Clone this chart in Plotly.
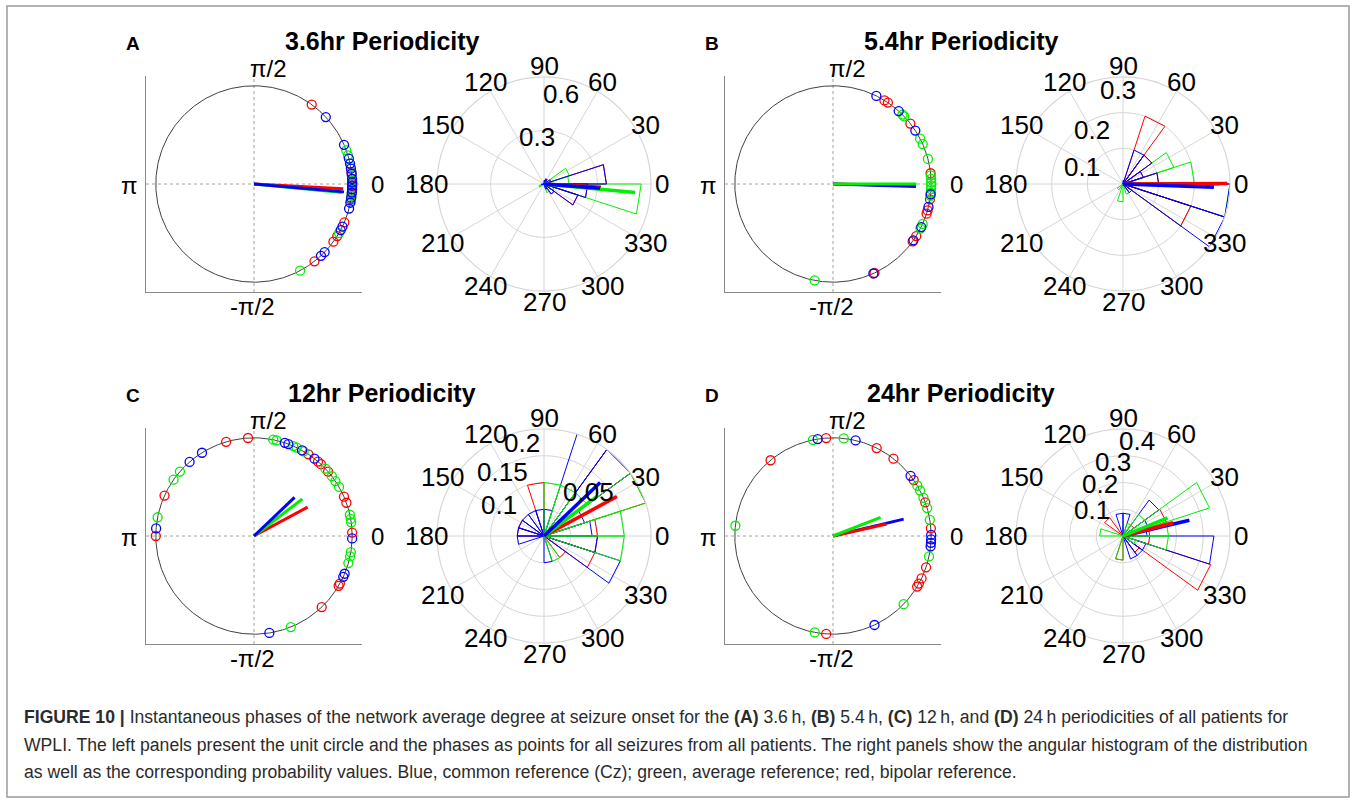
import numpy as np
import plotly.graph_objects as go

W, H = 1357, 802
FONT = "Liberation Sans, Arial, Helvetica, sans-serif"
BLUE, GREEN, RED = "#0000ff", "#00ee00", "#ff0000"

# ---------------- data ----------------
panel_letters = ["A", "B", "C", "D"]
panel_titles = ["3.6hr Periodicity", "5.4hr Periodicity", "12hr Periodicity", "24hr Periodicity"]
angle_ticks = [0, 30, 60, 90, 120, 150, 180, 210, 240, 270, 300, 330]
BIN_WIDTH = 18  # 20 rose bins

# phases at seizure onset (degrees) – left panels
A_blue_phase = [43, 23.5, 15, 12, 9, 6, 3, 1, -1, -3, -5, -8, -11, -14.5, -25.7, -28, -44, -47]
A_green_phase = [20, 17, 10, 5, 2, -2, -4, -7, -10, -30, -62]
A_red_phase = [54, 7, 3, 0, -3, -6, -9, -23, -32, -36, -52]

B_blue_phase = [63.8, 48, 33, -6, -13.5, -26, -35, -65.7]
B_green_phase = [45, 43.5, 27.5, 24, 14.8, 5, 3, 1, -1, -3, -5, -7, -24, -27, -100.8]
B_red_phase = [58.4, 56, 38, 6.3, -9, -15.6, -17.6, -32, -35.8, -65]

C_blue_phase = [122, 131, 175.6, 71.7, 69.5, 60.7, 52, -1.4, -22.6, -24.6, -81]
C_green_phase = [139, 145, 169, 78.7, 76.7, 66.4, 64.2, 59.6, 43.3, 37.5, 34, 30,
                 12.5, 10, 8, -9.5, -12, -16, -68]
C_red_phase = [93.5, 106.5, 155.7, 180, 56.3, 49.3, 47, 41, 23.6, 19.8, 2, -29, -30.5, -46.4]

D_blue_phase = [99, 76.7, 37.8, 0.6, -2, -4, -6, -65]
D_green_phase = [101.8, 83.7, 30.8, 27.6, 22.9, 16.5, 9.5, -12, -44, -100.7, 174]
D_red_phase = [94, 63.6, 52, 34.7, 20, 4.5, -18.6, -25.6, -29, -31, -94, 129.5]

# angular histogram probabilities, 20 bins of 18 deg starting at 0 deg
A_blue_rose = [0.35, 0.04, 0, 0.03, 0.02, 0, 0, 0, 0, 0, 0.015, 0, 0, 0, 0, 0, 0.03, 0.07, 0.2, 0.245]
A_green_rose = [0.14, 0.15, 0.025, 0, 0, 0, 0, 0, 0, 0, 0, 0.03, 0, 0, 0, 0, 0.05, 0, 0.06, 0.545]
A_red_rose = [0.35, 0.04, 0, 0.03, 0, 0, 0, 0, 0, 0, 0, 0, 0, 0, 0, 0, 0.03, 0.07, 0.2, 0.245]

B_blue_rose = [0.1, 0.06, 0.1, 0.1, 0.01, 0, 0, 0, 0, 0, 0, 0, 0, 0, 0, 0, 0, 0.03, 0.3, 0.3]
B_green_rose = [0.2, 0.15, 0, 0, 0, 0, 0, 0, 0, 0, 0, 0, 0.02, 0, 0.05, 0, 0.03, 0, 0.2, 0.3]
B_red_rose = [0.1, 0.06, 0.1, 0.2, 0, 0, 0, 0, 0, 0, 0, 0, 0, 0, 0, 0, 0, 0.03, 0.2, 0.305]

C_blue_rose = [0.09, 0.08, 0.2, 0.25, 0.05, 0.05, 0.05, 0.05, 0.05, 0.05, 0.05, 0, 0, 0, 0, 0.05, 0, 0, 0.15, 0.1]
C_green_rose = [0.15, 0.2, 0.1, 0.1, 0.1, 0, 0, 0, 0, 0, 0, 0, 0, 0, 0, 0, 0.05, 0, 0, 0.15]
C_red_rose = [0.1, 0.2, 0.25, 0, 0, 0.1, 0, 0, 0.05, 0.05, 0, 0, 0, 0, 0, 0, 0, 0.05, 0.1, 0.1]

D_blue_rose = [0.09, 0.1, 0.166, 0, 0.085, 0.085, 0, 0, 0, 0, 0, 0, 0, 0, 0, 0, 0.09, 0.09, 0.09, 0.34]
D_green_rose = [0.17, 0.34, 0.1, 0.05, 0, 0, 0, 0, 0, 0.087, 0, 0, 0, 0, 0.09, 0, 0, 0, 0.05, 0.17]
D_red_rose = [0.1, 0.17, 0.05, 0, 0, 0, 0, 0.085, 0, 0, 0, 0, 0, 0, 0.09, 0, 0, 0.075, 0.345, 0.1]

# mean resultant vectors: (angle deg, length) on unit circle and on the histogram (drawing order)
A_mean_circle = {"red": (-3, 0.91), "green": (-5.5, 0.9), "blue": (-5, 0.92)}
B_mean_circle = {"red": (-1, 0.84), "blue": (-1.8, 0.845), "green": (0, 0.85)}
C_mean_circle = {"red": (28.3, 0.62), "green": (37.4, 0.62), "blue": (43.6, 0.57)}
D_mean_circle = {"blue": (13.4, 0.74), "red": (12.6, 0.56), "green": (21.3, 0.52)}

A_mean_rose = {"red": (-3.3, 0.32), "green": (-5.4, 0.513), "blue": (-4.4, 0.315)}
B_mean_rose = {"green": (0, 0.27), "red": (0.3, 0.2925), "blue": (-2, 0.255)}
C_mean_rose = {"red": (28.4, 0.155), "green": (36.8, 0.123), "blue": (43.6, 0.145)}
D_mean_rose = {"blue": (13.3, 0.255), "red": (14.8, 0.194), "green": (22.2, 0.18)}

# radial ring values of each angular histogram
A_rings = [0.3, 0.6]
B_rings = [0.1, 0.2, 0.3]
C_rings = [0.05, 0.1, 0.15, 0.2]
D_rings = [0.1, 0.2, 0.3, 0.4]
A_ring_labels = ["0.3", "0.6"]
B_ring_labels = ["0.1", "0.2", "0.3"]
C_ring_labels = ["0.05", "0.1", "0.15", "0.2"]
D_ring_labels = ["0.1", "0.2", "0.3", "0.4"]

caption_lines = [
    "<b>FIGURE 10 |</b> Instantaneous phases of the network average degree at seizure onset for the "
    "<b>(A)</b> 3.6\u2009h, <b>(B)</b> 5.4\u2009h, <b>(C)</b> 12\u2009h, and <b>(D)</b> 24\u2009h "
    "periodicities of all patients for",
    "WPLI. The left panels present the unit circle and the phases as points for all seizures from all "
    "patients. The right panels show the angular histogram of the distribution",
    "as well as the corresponding probability values. Blue, common reference (Cz); green, average "
    "reference; red, bipolar reference.",
]

# ---------------- layout geometry (pixels) ----------------
left_centers = [(254, 184), (833, 184), (254, 536), (833, 536)]
polar_centers = [(544, 184), (1123, 184), (544, 536), (1123, 536)]
HALF = 108     # half size of the unit-circle axes box (range +-1.1)
R = 107        # polar radius in px
ring_label_offsets = [
    [(-7, -47), (17, -90)],
    [(-41, -17), (-31, -54), (-5, -94)],
    [(44, -44), (-45, -31), (-42, -64), (-22, -93)],
    [(-31, -26), (-23, -52), (-10, -74), (14, -95)],
]

colors = {"red": RED, "green": GREEN, "blue": BLUE}
panels = [
    dict(phase={"red": A_red_phase, "green": A_green_phase, "blue": A_blue_phase},
         rose={"red": A_red_rose, "green": A_green_rose, "blue": A_blue_rose},
         mc=A_mean_circle, mr=A_mean_rose, rings=A_rings, rlab=A_ring_labels,
         rose_order=["red", "green", "blue"]),
    dict(phase={"red": B_red_phase, "green": B_green_phase, "blue": B_blue_phase},
         rose={"red": B_red_rose, "green": B_green_rose, "blue": B_blue_rose},
         mc=B_mean_circle, mr=B_mean_rose, rings=B_rings, rlab=B_ring_labels,
         rose_order=["green", "red", "blue"]),
    dict(phase={"red": C_red_phase, "green": C_green_phase, "blue": C_blue_phase},
         rose={"red": C_red_rose, "green": C_green_rose, "blue": C_blue_rose},
         mc=C_mean_circle, mr=C_mean_rose, rings=C_rings, rlab=C_ring_labels,
         rose_order=["red", "blue", "green"]),
    dict(phase={"red": D_red_phase, "green": D_green_phase, "blue": D_blue_phase},
         rose={"red": D_red_rose, "green": D_green_rose, "blue": D_blue_rose},
         mc=D_mean_circle, mr=D_mean_rose, rings=D_rings, rlab=D_ring_labels,
         rose_order=["red", "blue", "green"]),
]


def px(x):
    return x / W


def py(y):
    return 1 - y / H


def rose_polygon(values):
    r, th = [], []
    for k, v in enumerate(values):
        if v <= 0:
            continue
        a0 = k * BIN_WIDTH
        a1 = a0 + BIN_WIDTH
        r += [0, v, v, 0, None]
        th += [a0, a0, a1, a1, None]
    return r, th


fig = go.Figure()
annotations = []
shapes = []
layout = {}

circ = np.linspace(0, 2 * np.pi, 361)

for i, p in enumerate(panels):
    n = "" if i == 0 else str(i + 1)
    xa, ya = "x" + n, "y" + n
    cx, cy = left_centers[i]
    pcx, pcy = polar_centers[i]

    # ---- unit circle panel ----
    layout["xaxis" + n] = dict(domain=[px(cx - HALF), px(cx + HALF)], range=[-1.1, 1.1],
                               showline=True, linecolor="#8a8a8a", linewidth=1.3, mirror=False,
                               showgrid=False, zeroline=False, showticklabels=False, ticks="",
                               anchor=ya, fixedrange=True)
    layout["yaxis" + n] = dict(domain=[py(cy + HALF), py(cy - HALF)], range=[-1.1, 1.1],
                               showline=True, linecolor="#8a8a8a", linewidth=1.3, mirror=False,
                               showgrid=False, zeroline=False, showticklabels=False, ticks="",
                               anchor=xa, fixedrange=True)
    shapes.append(dict(type="line", xref=xa + " domain", yref=ya, x0=0, x1=1, y0=0, y1=0,
                       line=dict(color="#a0a0a0", width=1, dash="dot"), layer="below"))
    shapes.append(dict(type="line", xref=xa, yref=ya + " domain", x0=0, x1=0, y0=0, y1=1,
                       line=dict(color="#a0a0a0", width=1, dash="dot"), layer="below"))
    fig.add_trace(go.Scatter(x=np.cos(circ), y=np.sin(circ), mode="lines",
                             line=dict(color="#404040", width=1), xaxis=xa, yaxis=ya,
                             hoverinfo="skip"))
    for c in ["red", "green", "blue"]:
        th = np.deg2rad(np.array(p["phase"][c], dtype=float))
        fig.add_trace(go.Scatter(x=np.cos(th), y=np.sin(th), mode="markers",
                                 marker=dict(symbol="circle-open", size=9, color=colors[c],
                                             line=dict(width=1.3, color=colors[c])),
                                 xaxis=xa, yaxis=ya))
    for c, (ang, length) in p["mc"].items():
        a = np.deg2rad(ang)
        fig.add_trace(go.Scatter(x=[0, length * np.cos(a)], y=[0, length * np.sin(a)],
                                 mode="lines", line=dict(color=colors[c], width=3),
                                 xaxis=xa, yaxis=ya))
    # axis labels of unit circle
    for txt, dx, dy in [("\u03c0/2", 14, -116), ("-\u03c0/2", -2, 122), ("\u03c0", -125, 1), ("0", 123, 0)]:
        annotations.append(dict(text=txt, x=px(cx + dx), y=py(cy + dy), xref="paper", yref="paper",
                                showarrow=False, xanchor="center", yanchor="middle",
                                font=dict(size=24, color="black", family=FONT)))
    # panel letter and title
    annotations.append(dict(text="<b>%s</b>" % panel_letters[i], x=px(cx - 121), y=py(cy - 141),
                            xref="paper", yref="paper", showarrow=False, xanchor="center",
                            yanchor="middle", font=dict(size=19, color="black", family=FONT)))
    annotations.append(dict(text="<b>%s</b>" % panel_titles[i], x=px(cx + 128), y=py(cy - 143),
                            xref="paper", yref="paper", showarrow=False, xanchor="center",
                            yanchor="middle", font=dict(size=25, color="black", family=FONT)))

    # ---- angular histogram panel ----
    pn = "polar" + n
    layout[pn] = dict(
        domain=dict(x=[px(pcx - R), px(pcx + R)], y=[py(pcy + R), py(pcy - R)]),
        bgcolor="white",
        angularaxis=dict(rotation=0, direction="counterclockwise", tickvals=angle_ticks,
                         showticklabels=False, ticks="", gridcolor="#d6d6d6", gridwidth=1.2,
                         showline=True, linecolor="#d6d6d6", linewidth=1.2),
        radialaxis=dict(range=[0, p["rings"][-1]], tickvals=p["rings"], showticklabels=False,
                        ticks="", showline=False, gridcolor="#d6d6d6", gridwidth=1.2),
    )
    for c in p["rose_order"]:
        r, th = rose_polygon(p["rose"][c])
        fig.add_trace(go.Scatterpolar(r=r, theta=th, mode="lines", subplot=pn,
                                      line=dict(color=colors[c], width=1), connectgaps=False,
                                      cliponaxis=False))
    for c, (ang, length) in p["mr"].items():
        fig.add_trace(go.Scatterpolar(r=[0, length], theta=[ang, ang], mode="lines", subplot=pn,
                                      line=dict(color=colors[c], width=3.5), cliponaxis=False))
    for deg in angle_ticks:
        a = np.deg2rad(deg)
        annotations.append(dict(text=str(deg), x=px(pcx + 1.1 * R * np.cos(a)),
                                y=py(pcy - 1.1 * R * np.sin(a)), xref="paper", yref="paper",
                                showarrow=False, xanchor="center", yanchor="middle",
                                font=dict(size=26, color="black", family=FONT)))
    for lab, (dx, dy) in zip(p["rlab"], ring_label_offsets[i]):
        annotations.append(dict(text=lab, x=px(pcx + dx), y=py(pcy + dy), xref="paper", yref="paper",
                                showarrow=False, xanchor="center", yanchor="middle",
                                font=dict(size=26, color="black", family=FONT)))

# caption
for k, line in enumerate(caption_lines):
    annotations.append(dict(text=line, x=px(22), y=py(717 + 27.5 * k), xref="paper", yref="paper",
                            showarrow=False, xanchor="left", yanchor="middle", align="left",
                            font=dict(size=17.6, color="#2b2b2b", family=FONT)))

# outer frame
shapes.append(dict(type="rect", xref="paper", yref="paper", x0=px(7), x1=px(1349), y0=py(797), y1=py(6),
                   line=dict(color="#9a9a9a", width=1.5)))

fig.update_layout(width=W, height=H, autosize=False, margin=dict(l=0, r=0, t=0, b=0),
                  paper_bgcolor="white", plot_bgcolor="white", showlegend=False,
                  annotations=annotations, shapes=shapes, **layout)

fig.write_html("out.html")
